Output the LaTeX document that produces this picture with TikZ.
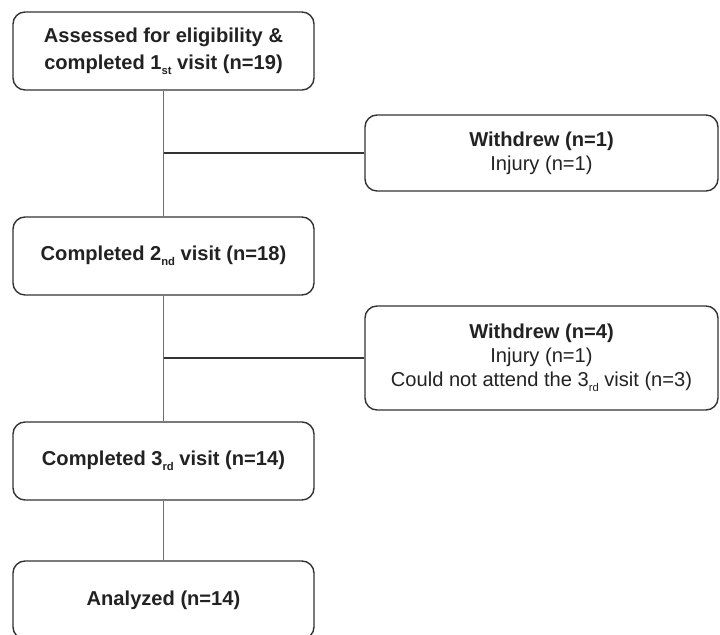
\documentclass[tikz,border=0pt]{standalone}
\usepackage{fontspec}
\setmainfont{Liberation Sans}
\definecolor{boxline}{HTML}{333333}
\definecolor{linkline}{HTML}{6E6E6E}
\definecolor{textcol}{HTML}{222222}
\newcommand{\ordsub}[1]{\raisebox{-0.45ex}{\fontsize{8}{8}\selectfont #1}}
\tikzset{
  stagebox/.style={draw=boxline, line width=0.035cm, rounded corners=0.3cm,
    minimum width=7.525cm, minimum height=1.95cm, align=center,
    text=textcol, font=\fontsize{14.3}{19.5}\selectfont\bfseries},
  exitbox/.style={draw=boxline, line width=0.035cm, rounded corners=0.3cm,
    minimum width=8.825cm, align=center,
    text=textcol, font=\fontsize{14.3}{17}\selectfont},
  flowline/.style={draw=linkline, line width=0.035cm},
  sideline/.style={draw=boxline, line width=0.035cm}
}
\begin{document}
\begin{tikzpicture}
            \useasboundingbox (0.000000,0.000000) rectangle (18.000000,15.875000);
            \clip (0.000000,0.000000) rectangle (18.000000,15.875000);

            % Drawing main stages
            \node [stagebox] (visit1) at (4.087500,14.600000) {Assessed for eligibility \&\\completed 1\ordsub{st} visit (n=19)};%
            \node [stagebox] (visit2) at (4.087500,9.475000) {Completed 2\ordsub{nd} visit (n=18)};%
            \node [stagebox] (visit3) at (4.087500,4.350000) {Completed 3\ordsub{rd} visit (n=14)};%
            \node [stagebox] (analyzed) at (4.087500,0.875000) {Analyzed (n=14)};%

            % Drawing withdrawal boxes
            \node [exitbox, minimum height=1.9cm] (out1) at (13.537500,12.050000) {\textbf{Withdrew (n=1)}\\Injury (n=1)};%
            \node [exitbox, minimum height=2.6cm] (out2) at (13.537500,6.925000) {\textbf{Withdrew (n=4)}\\Injury (n=1)\\Could not attend the 3\ordsub{rd} visit (n=3)};%

            % Drawing main flow
            \draw [flowline] (visit1) -- (visit2);%
            \draw [flowline] (visit2) -- (visit3);%
            \draw [flowline] (visit3) -- (analyzed);%

            % Drawing branches
            \draw [sideline] (visit1 |- out1) -- (out1.west);%
            \draw [sideline] (visit2 |- out2) -- (out2.west);%
\end{tikzpicture}
\end{document}
